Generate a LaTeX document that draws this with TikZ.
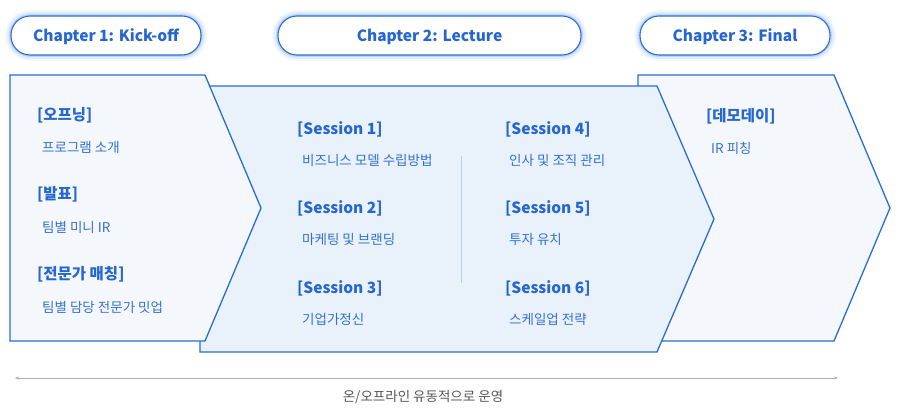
\documentclass[tikz,border=0pt]{standalone}
\usepackage{fontspec}
\setmainfont{Noto Sans CJK KR}
\usetikzlibrary{arrows.meta, positioning}
\definecolor{titleblue}{RGB}{37, 102, 209}
\definecolor{lineblue}{RGB}{43, 108, 212}
\definecolor{glowblue}{RGB}{90, 150, 245}
\definecolor{itemblue}{RGB}{52, 112, 212}
\definecolor{panelfill}{RGB}{244, 248, 253}
\definecolor{lecturefill}{RGB}{233, 242, 251}
\definecolor{dividerblue}{RGB}{185, 205, 230}
\definecolor{spangray}{RGB}{175, 175, 175}
\definecolor{notegray}{RGB}{85, 85, 85}

\begin{document}
\begin{tikzpicture}[
			x=1pt, y=-1pt,
			chapter/.style={rectangle, rounded corners=19pt, draw=lineblue, line width=1.1pt, fill=white, minimum height=39pt, text depth=0pt, font=\fontsize{15.5}{18}\selectfont\bfseries, text=titleblue,
				preaction={draw=glowblue, line width=12pt, draw opacity=0.07},
				preaction={draw=glowblue, line width=8pt, draw opacity=0.12},
				preaction={draw=glowblue, line width=4pt, draw opacity=0.25}},
			panel/.style={draw=lineblue, line width=1.3pt, line join=miter},
			heading/.style={anchor=west, inner sep=0pt, yshift=-1.5pt, font=\fontsize{15.5}{18}\selectfont\bfseries, text=titleblue},
			item/.style={anchor=west, inner sep=0pt, yshift=-1.5pt, font=\fontsize{13.5}{16}\selectfont, text=itemblue},
			span/.style={{Stealth[length=4pt, width=3pt]}-{Stealth[length=4pt, width=3pt]}, draw=spangray, line width=0.8pt},
			note/.style={inner sep=0pt, yshift=-1.5pt, font=\fontsize{13.5}{16}\selectfont, text=notegray}
		]
		\useasboundingbox (0,0) rectangle (900,412);
		
		% Chapters
		\node[chapter, minimum width=190pt] (kickoff) at (106,35.5) {Chapter 1: Kick-off};
		\node[chapter, minimum width=303pt] (lecture) at (429.5,35.5) {Chapter 2: Lecture};
		\node[chapter, minimum width=190pt] (final) at (735,35.5) {Chapter 3: Final};
		
		% Panels, back to front
		\draw[panel, fill=panelfill] (638,75) -- (834,75) -- (890,208) -- (834,341) -- (638,341) -- cycle;
		\draw[panel, fill=lecturefill] (200,86) -- (657,86) -- (714,219) -- (657,352) -- (200,352) -- cycle;
		\draw[panel, fill=panelfill] (10,75) -- (205,75) -- (261,208) -- (205,341) -- (10,341) -- cycle;
		
		% Kick-off contents
		\node[heading] (opening) at (37,114) {[오프닝]};
		\node[item] (openingtxt) at (42,146) {프로그램 소개};
		\node[heading] (pitch) at (37,193) {[발표]};
		\node[item] (pitchtxt) at (42,226) {팀별 미니 IR};
		\node[heading] (mentor) at (37,273) {[전문가 매칭]};
		\node[item] (mentortxt) at (42,306) {팀별 담당 전문가 밋업};
		
		% Lecture contents
		\node[heading] (s1) at (297,128) {[Session 1]};
		\node[item] (s1txt) at (302,159) {비즈니스 모델 수립방법};
		\node[heading] (s2) at (297,207) {[Session 2]};
		\node[item] (s2txt) at (302,238) {마케팅 및 브랜딩};
		\node[heading] (s3) at (297,287) {[Session 3]};
		\node[item] (s3txt) at (302,318) {기업가정신};
		\node[heading] (s4) at (505,128) {[Session 4]};
		\node[item] (s4txt) at (509,159) {인사 및 조직 관리};
		\node[heading] (s5) at (505,207) {[Session 5]};
		\node[item] (s5txt) at (509,238) {투자 유치};
		\node[heading] (s6) at (505,287) {[Session 6]};
		\node[item] (s6txt) at (509,318) {스케일업 전략};
		\draw[dividerblue, line width=0.8pt] (461,156) -- (461,283);
		
		% Final contents
		\node[heading] (demoday) at (706,115) {[데모데이]};
		\node[item] (demodaytxt) at (711,147) {IR 피칭};
		
		% Span
		\coordinate (spanL) at (15,378);
		\coordinate (spanR) at (838,378);
		\draw[span] (spanL) -- (spanR);
		\node[note] (mode) at (423,396) {온/오프라인 유동적으로 운영};
		\end{tikzpicture}
\end{document}
